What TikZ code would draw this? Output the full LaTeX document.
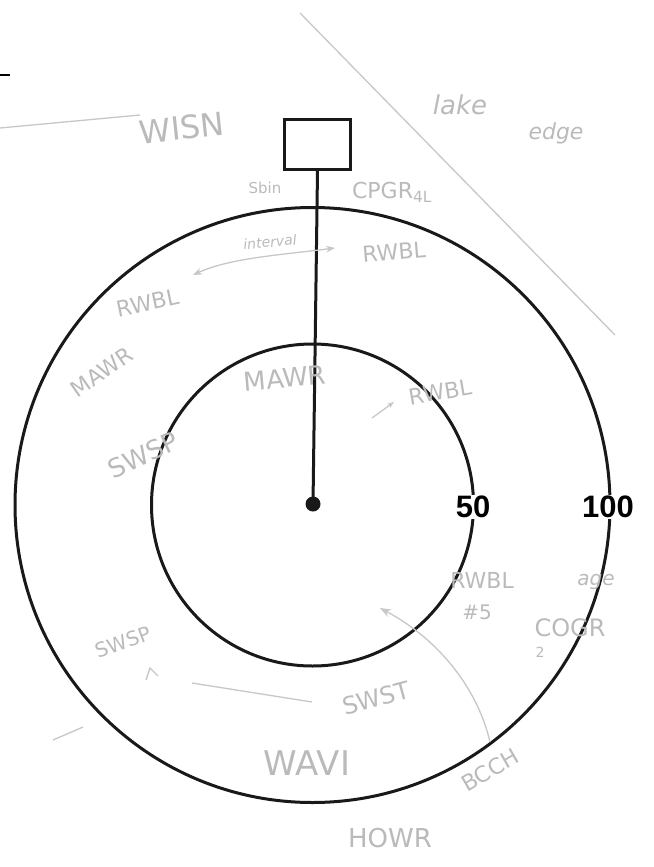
\documentclass[tikz,border=0pt]{standalone}
\usepackage{fontspec}
\setmainfont{Liberation Sans}
\newfontfamily\hand{DejaVu Sans}
\usetikzlibrary{arrows.meta}
\begin{document}
\begin{tikzpicture}[x=1pt,y=-1pt,
  ring/.style={draw=black!90, line width=3pt},
  numlbl/.style={font=\fontsize{31}{31}\selectfont\bfseries, fill=white, inner sep=1.5pt, text=black},
  note/.style={text=black!27, inner sep=0pt},
  pencil/.style={draw=black!22, line width=1.3pt}]
\useasboundingbox (0,0) rectangle (653,867);
% faint pencil lines
\draw[pencil] (300,13) -- (615,335);
\draw[pencil] (0,128) -- (140,115);
\draw[pencil] (192,683) -- (312,702);
\draw[pencil] (53,740) -- (83,727);
% main figure
\coordinate (c) at (312.5,505);
\draw[ring] (c) circle[radius=161];
\draw[ring] (c) circle[radius=297.5];
\node[circle, fill=black!90, inner sep=0pt, minimum size=15pt] (dot) at (313,504) {};
\node[draw=black!90, line width=2.8pt, minimum width=66pt, minimum height=50pt, inner sep=0pt] (box) at (317.5,144.5) {};
\draw[line width=3pt, draw=black!90] (box.south) -- (dot.center);
\draw[line width=2pt] (0,75) -- (10,75);
\node[numlbl] (l50) at (473,507) {50};
\node[numlbl] (l100) at (608,507) {100};
% handwritten notes
\node[note, font=\hand\fontsize{32}{32}\selectfont, rotate=6] (n1) at (182,128) {WISN};
\node[note, font=\hand\itshape\fontsize{26}{26}\selectfont] (n2) at (460,105) {lake};
\node[note, font=\hand\itshape\fontsize{22}{22}\selectfont] (n3) at (556,133) {edge};
\node[note, font=\hand\fontsize{22}{22}\selectfont] (n4) at (392,192) {CPGR\textsubscript{4L}};
\node[note, font=\hand\fontsize{15}{15}\selectfont] (n5) at (265,188) {Sbin};
\node[note, font=\hand\itshape\fontsize{14}{14}\selectfont, rotate=5] (n6) at (270,242) {interval};
\coordinate (a1) at (193,275);
\coordinate (a2) at (335,248);
\draw[pencil, {Stealth[length=9pt]}-{Stealth[length=9pt]}] (a1) .. controls (230,258) and (280,255) .. (a2);
\node[note, font=\hand\fontsize{22}{22}\selectfont, rotate=5] (n7) at (394,252) {RWBL};
\node[note, font=\hand\fontsize{22}{22}\selectfont, rotate=12] (n8) at (148,303) {RWBL};
\node[note, font=\hand\fontsize{22}{22}\selectfont, rotate=35] (n9) at (102,372) {MAWR};
\node[note, font=\hand\fontsize{26}{26}\selectfont, rotate=25] (n10) at (143,455) {SWSP};
\node[note, font=\hand\fontsize{26}{26}\selectfont, rotate=5] (n11) at (285,378) {MAWR};
\node[note, font=\hand\fontsize{22}{22}\selectfont, rotate=10] (n12) at (440,392) {RWBL};
\coordinate (b1) at (372,418);
\coordinate (b2) at (394,402);
\draw[pencil, -{Stealth[length=7pt]}] (b1) -- (b2);
\node[note, font=\hand\fontsize{22}{22}\selectfont] (n13) at (482,580) {RWBL};
\node[note, font=\hand\itshape\fontsize{20}{20}\selectfont] (n14) at (596,582) {age};
\node[note, font=\hand\fontsize{20}{20}\selectfont] (n15) at (477,612) {\#5};
\node[note, font=\hand\fontsize{24}{24}\selectfont] (n16) at (570,628) {COGR};
\node[note, font=\hand\fontsize{14}{14}\selectfont] (n17) at (540,652) {2};
\coordinate (d1) at (490,742);
\coordinate (d2) at (380,608);
\draw[pencil, -{Stealth[length=11pt]}] (d1) .. controls (478,690) and (440,640) .. (d2);
\node[note, font=\hand\fontsize{20}{20}\selectfont, rotate=20] (n18) at (123,642) {SWSP};
\draw[pencil] (146,680) -- (150,668) -- (158,676);
\node[note, font=\hand\fontsize{24}{24}\selectfont, rotate=15] (n19) at (376,698) {SWST};
\node[note, font=\hand\fontsize{34}{34}\selectfont] (n20) at (307,763) {WAVI};
\node[note, font=\hand\fontsize{22}{22}\selectfont, rotate=30] (n21) at (490,770) {BCCH};
\node[note, font=\hand\fontsize{26}{26}\selectfont] (n22) at (390,838) {HOWR};
\end{tikzpicture}
\end{document}
